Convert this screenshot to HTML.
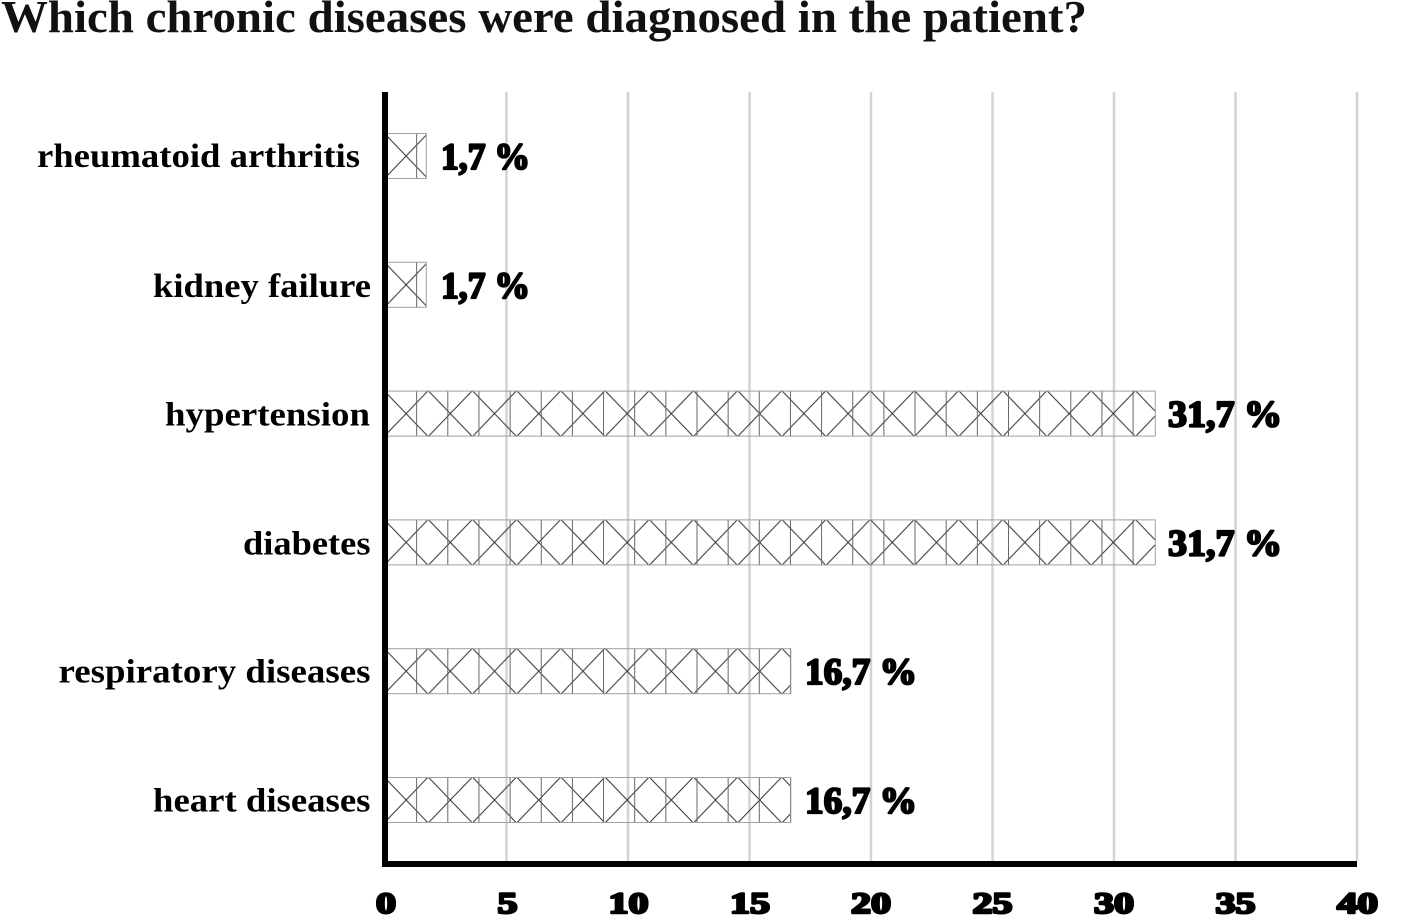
<!DOCTYPE html>
<html>
<head>
<meta charset="utf-8">
<style>
  html, body { margin: 0; padding: 0; background: #ffffff; }
  body { width: 1412px; height: 918px; overflow: hidden; }
  svg { display: block; }
  .title { font-family: "Liberation Serif", serif; font-weight: bold; font-size: 45px; fill: #111; }
  .cat { font-family: "Liberation Serif", serif; font-weight: bold; font-size: 34px; fill: #000; }
  .val { font-family: "Liberation Serif", serif; font-weight: bold; font-size: 37px; fill: #000; stroke: #000; stroke-width: 2.2px; stroke-linejoin: round; }
  .tick { font-family: "Liberation Serif", serif; font-weight: bold; font-size: 30px; fill: #000; stroke: #000; stroke-width: 2.4px; stroke-linejoin: round; }
</style>
</head>
<body>
<svg width="1412" height="918" viewBox="0 0 1412 918" xmlns="http://www.w3.org/2000/svg">
  <defs>
    <pattern id="diag" patternUnits="userSpaceOnUse" x="-1" y="0" width="44.2" height="46">
      <path d="M0,0 L44.2,46 M44.2,0 L0,46" stroke="#333" stroke-width="1" fill="none"/>
    </pattern>
    <pattern id="vert" patternUnits="userSpaceOnUse" x="0" y="0" width="31.15" height="46">
      <line x1="0.5" y1="0" x2="0.5" y2="46" stroke="#666" stroke-width="1"/>
    </pattern>
  </defs>

  <rect x="0" y="0" width="1412" height="918" fill="#fff"/>

  <!-- Title -->
  <text class="title" x="1" y="32" textLength="1086" lengthAdjust="spacingAndGlyphs">Which chronic diseases were diagnosed in the patient?</text>

  <!-- Gridlines -->
  <g stroke="#d3d3d3" stroke-width="2.5">
    <line x1="506.5" y1="92" x2="506.5" y2="861"/>
    <line x1="628" y1="92" x2="628" y2="861"/>
    <line x1="749.5" y1="92" x2="749.5" y2="861"/>
    <line x1="871" y1="92" x2="871" y2="861"/>
    <line x1="992.5" y1="92" x2="992.5" y2="861"/>
    <line x1="1114" y1="92" x2="1114" y2="861"/>
    <line x1="1235.5" y1="92" x2="1235.5" y2="861"/>
    <line x1="1357" y1="92" x2="1357" y2="861"/>
  </g>

  <!-- Bars -->
  <g transform="translate(385,133)">
    <rect width="41.3" height="46" fill="url(#diag)"/>
    <rect width="41.3" height="46" fill="url(#vert)"/>
    <rect x="0.5" y="0.5" width="40.8" height="45" fill="none" stroke="#a0a0a0" stroke-width="1"/>
  </g>
  <g transform="translate(385,261.8)">
    <rect width="41.3" height="46" fill="url(#diag)"/>
    <rect width="41.3" height="46" fill="url(#vert)"/>
    <rect x="0.5" y="0.5" width="40.8" height="45" fill="none" stroke="#a0a0a0" stroke-width="1"/>
  </g>
  <g transform="translate(385,390.6)">
    <rect width="770.3" height="46" fill="url(#diag)"/>
    <rect width="770.3" height="46" fill="url(#vert)"/>
    <rect x="0.5" y="0.5" width="769.8" height="45" fill="none" stroke="#a0a0a0" stroke-width="1"/>
  </g>
  <g transform="translate(385,519.4)">
    <rect width="770.3" height="46" fill="url(#diag)"/>
    <rect width="770.3" height="46" fill="url(#vert)"/>
    <rect x="0.5" y="0.5" width="769.8" height="45" fill="none" stroke="#a0a0a0" stroke-width="1"/>
  </g>
  <g transform="translate(385,648.2)">
    <rect width="405.8" height="46" fill="url(#diag)"/>
    <rect width="405.8" height="46" fill="url(#vert)"/>
    <rect x="0.5" y="0.5" width="405.3" height="45" fill="none" stroke="#a0a0a0" stroke-width="1"/>
  </g>
  <g transform="translate(385,777)">
    <rect width="405.8" height="46" fill="url(#diag)"/>
    <rect width="405.8" height="46" fill="url(#vert)"/>
    <rect x="0.5" y="0.5" width="405.3" height="45" fill="none" stroke="#a0a0a0" stroke-width="1"/>
  </g>

  <!-- Axes -->
  <rect x="382" y="92" width="6" height="775" fill="#000"/>
  <rect x="382" y="861" width="975" height="6" fill="#000"/>

  <!-- Category labels -->
  <text class="cat" x="37" y="167" textLength="323" lengthAdjust="spacingAndGlyphs">rheumatoid arthritis</text>
  <text class="cat" x="153" y="297" textLength="218" lengthAdjust="spacingAndGlyphs">kidney failure</text>
  <text class="cat" x="165" y="425.5" textLength="205" lengthAdjust="spacingAndGlyphs">hypertension</text>
  <text class="cat" x="243" y="554.3" textLength="127.5" lengthAdjust="spacingAndGlyphs">diabetes</text>
  <text class="cat" x="58.5" y="682.7" textLength="312" lengthAdjust="spacingAndGlyphs">respiratory diseases</text>
  <text class="cat" x="153" y="811.7" textLength="217.5" lengthAdjust="spacingAndGlyphs">heart diseases</text>

  <!-- Value labels -->
  <text class="val" x="441" y="169" textLength="89" lengthAdjust="spacingAndGlyphs">1,7 %</text>
  <text class="val" x="441" y="297.8" textLength="89" lengthAdjust="spacingAndGlyphs">1,7 %</text>
  <text class="val" x="1168" y="426.6" textLength="114" lengthAdjust="spacingAndGlyphs">31,7 %</text>
  <text class="val" x="1168" y="555.4" textLength="114" lengthAdjust="spacingAndGlyphs">31,7 %</text>
  <text class="val" x="805" y="684.2" textLength="112" lengthAdjust="spacingAndGlyphs">16,7 %</text>
  <text class="val" x="805" y="813" textLength="112" lengthAdjust="spacingAndGlyphs">16,7 %</text>

  <!-- Tick labels -->
  <text class="tick" x="376" y="913" textLength="20" lengthAdjust="spacingAndGlyphs">0</text>
  <text class="tick" x="497.5" y="913" textLength="20" lengthAdjust="spacingAndGlyphs">5</text>
  <text class="tick" x="608.5" y="913" textLength="40" lengthAdjust="spacingAndGlyphs">10</text>
  <text class="tick" x="730" y="913" textLength="40" lengthAdjust="spacingAndGlyphs">15</text>
  <text class="tick" x="851" y="913" textLength="40" lengthAdjust="spacingAndGlyphs">20</text>
  <text class="tick" x="972.5" y="913" textLength="40" lengthAdjust="spacingAndGlyphs">25</text>
  <text class="tick" x="1094" y="913" textLength="40" lengthAdjust="spacingAndGlyphs">30</text>
  <text class="tick" x="1215.5" y="913" textLength="40" lengthAdjust="spacingAndGlyphs">35</text>
  <text class="tick" x="1337" y="913" textLength="41" lengthAdjust="spacingAndGlyphs">40</text>
</svg>
</body>
</html>
